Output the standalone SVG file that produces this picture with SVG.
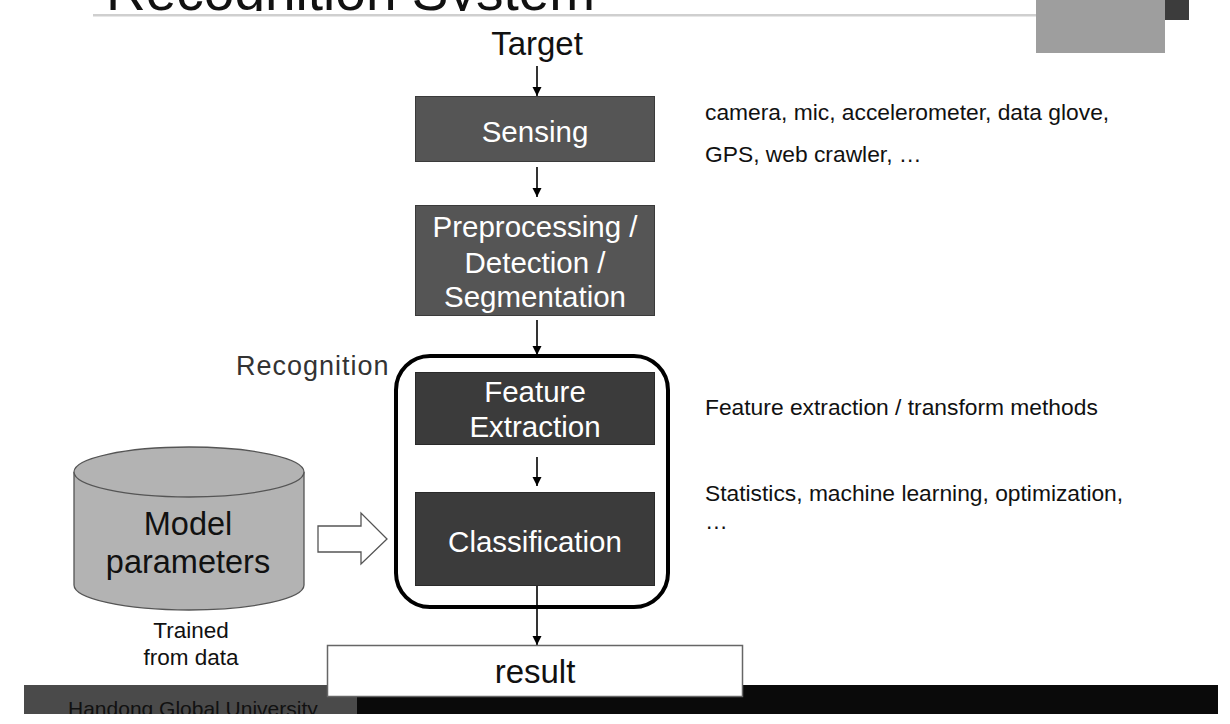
<svg xmlns="http://www.w3.org/2000/svg" width="1230" height="724" viewBox="0 0 1230 724">
  <defs>
    <style>
      text { font-family: "Liberation Sans", Arial, sans-serif; }
      .box-mid { fill: #555555; stroke: #3a3a3a; stroke-width: 1; }
      .box-dark { fill: #3b3b3b; stroke: #2a2a2a; stroke-width: 1; }
      .wt { fill: #ffffff; font-size: 29.5px; text-anchor: middle; }
      .note { fill: #111111; font-size: 22.8px; }
      .conn { stroke: #000000; stroke-width: 1.6; fill: none; marker-end: url(#ah); }
    </style>
    <marker id="ah" viewBox="0 0 10 10" refX="10" refY="5" markerWidth="9" markerHeight="10" markerUnits="userSpaceOnUse" orient="auto">
      <path d="M0,0 L10,5 L0,10 Z" fill="#000"/>
    </marker>
    <clipPath id="titleClip"><rect x="0" y="0" width="1230" height="11"/></clipPath>
    <clipPath id="footClip"><rect x="0" y="685" width="1230" height="29"/></clipPath>
  </defs>

  <rect x="0" y="0" width="1230" height="724" fill="#ffffff"/>

  <!-- header -->
  <g id="header">
    <text x="106" y="10" font-size="55" fill="#111" clip-path="url(#titleClip)">Recognition System</text>
    <rect x="93" y="14" width="945" height="2.5" fill="#cfcfcf"/>
    <rect x="1036" y="0" width="129" height="53" fill="#9e9e9e"/>
    <rect x="1165" y="0" width="24" height="20" fill="#3c3c3c"/>
  </g>

  <!-- footer -->
  <g id="footer">
    <rect x="24" y="685" width="333" height="29" fill="#4a4a4a"/>
    <rect x="357" y="685" width="861" height="29" fill="#0a0a0a"/>
    <text x="68" y="716" font-size="21" fill="#111111" clip-path="url(#footClip)">Handong Global University</text>
  </g>

  <!-- connectors -->
  <g id="connectors">
    <line class="conn" x1="537" y1="66" x2="537" y2="96"/>
    <line class="conn" x1="537" y1="167" x2="537" y2="197"/>
    <line class="conn" x1="537" y1="320" x2="537" y2="355"/>
    <line class="conn" x1="537" y1="457" x2="537" y2="486"/>
    <line class="conn" x1="537" y1="586" x2="537" y2="645"/>
    <polygon id="block-arrow" points="318,526 361,526 361,513 387,539 361,564 361,552 318,552" fill="#ffffff" stroke="#555" stroke-width="1.3"/>
  </g>

  <g id="target">
    <text x="537" y="55" font-size="33" fill="#111" text-anchor="middle">Target</text>
  </g>

  <g id="sensing">
    <rect class="box-mid" x="415.5" y="96.5" width="239" height="65"/>
    <text class="wt" x="535" y="142">Sensing</text>
  </g>

  <g id="preprocessing">
    <rect class="box-mid" x="415.5" y="205.5" width="239" height="110"/>
    <text class="wt" x="535" y="237">Preprocessing /</text>
    <text class="wt" x="535" y="273">Detection /</text>
    <text class="wt" x="535" y="307">Segmentation</text>
  </g>

  <g id="recognition">
    <rect x="396" y="356" width="272" height="251" rx="34" ry="34" fill="none" stroke="#000" stroke-width="4"/>
    <text x="236" y="375" font-size="27" fill="#333" letter-spacing="1">Recognition</text>
  </g>

  <g id="feature-extraction">
    <rect class="box-dark" x="415.5" y="372.5" width="239" height="72"/>
    <text class="wt" x="535" y="402">Feature</text>
    <text class="wt" x="535" y="437">Extraction</text>
  </g>

  <g id="classification">
    <rect class="box-dark" x="415.5" y="492.5" width="239" height="93"/>
    <text class="wt" x="535" y="552">Classification</text>
  </g>

  <g id="result">
    <rect x="327.5" y="645.5" width="415" height="51" fill="#ffffff" stroke="#666" stroke-width="1.5"/>
    <text x="535" y="683" font-size="33" fill="#111" text-anchor="middle">result</text>
  </g>

  <g id="model-parameters">
    <path d="M74,472 L74,585 A115,25 0 0 0 304,585 L304,472" fill="#b3b3b3" stroke="#555" stroke-width="1.3"/>
    <ellipse cx="189" cy="472" rx="115" ry="25" fill="#b3b3b3" stroke="#555" stroke-width="1.3"/>
    <text x="188" y="535" font-size="32.5" fill="#111" text-anchor="middle">Model</text>
    <text x="188" y="573" font-size="32.5" fill="#111" text-anchor="middle">parameters</text>
    <text x="191" y="638" font-size="22.5" fill="#111" text-anchor="middle">Trained</text>
    <text x="191" y="665" font-size="22.5" fill="#111" text-anchor="middle">from data</text>
  </g>

  <g id="notes">
    <text class="note" x="705" y="120">camera, mic, accelerometer, data glove,</text>
    <text class="note" x="705" y="162">GPS, web crawler, …</text>
    <text class="note" x="705" y="415">Feature extraction / transform methods</text>
    <text class="note" x="705" y="501">Statistics, machine learning, optimization,</text>
    <text class="note" x="705" y="529">…</text>
  </g>
</svg>
